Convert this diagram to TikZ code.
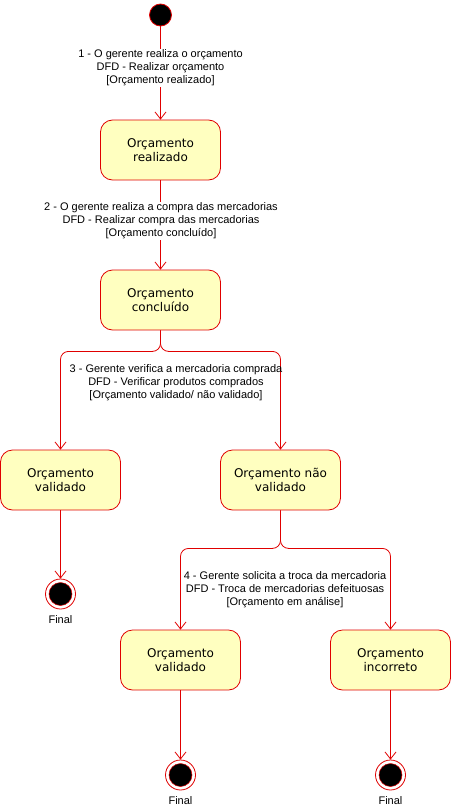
\documentclass[tikz,border=0pt]{standalone}
\usepackage{fontspec}
\setmainfont{Liberation Sans}
\newfontfamily\statefont{DejaVu Sans}
\usetikzlibrary{arrows.meta}

\definecolor{umlred}{HTML}{E00000}
\definecolor{umlfill}{HTML}{FFFFC0}

\tikzset{
  state/.style={draw=umlred, fill=umlfill, rounded corners=12pt, line width=0.8pt,
    minimum width=120pt, minimum height=60pt, align=center,
    font=\statefont\fontsize{12}{14}\selectfont},
  trans/.style={draw=umlred, line width=0.8pt, -{Straight Barb[length=7pt,width=11pt]}},
  lbl/.style={align=center, font=\fontsize{11}{13}\selectfont, inner sep=1pt},
  initial/.style={circle, draw=umlred, fill=black, line width=0.8pt, minimum size=22pt, inner sep=0pt},
  final/.style={circle, draw=umlred, fill=white, line width=0.8pt, minimum size=30pt, inner sep=0pt,
    path picture={\draw[umlred, fill=black, line width=0.5pt] (path picture bounding box.center) circle (11.5pt);}}
}

\begin{document}
\begin{tikzpicture}[x=1pt, y=-1pt]
  \useasboundingbox (0,0) rectangle (451,811);

  \node[initial] (S) at (160.5,15) {};
  \node[state] (R) at (160.5,150) {Orçamento\\realizado};
  \node[state] (C) at (160.5,300) {Orçamento\\concluído};
  \node[state] (V) at (60.5,480) {Orçamento\\validado};
  \node[state] (NV) at (280.5,480) {Orçamento não\\validado};
  \node[state] (V2) at (180.5,660) {Orçamento\\validado};
  \node[state] (I) at (390.5,660) {Orçamento\\incorreto};

  \node[final] (F1) at (60.5,594) {};
  \node[final] (F2) at (180.5,775) {};
  \node[final] (F3) at (390.5,775) {};
  \node[lbl] (F1t) at (60.5,620) {Final};
  \node[lbl] (F2t) at (180.5,801) {Final};
  \node[lbl] (F3t) at (390.5,801) {Final};

  % transicoes
  \draw[trans] (S) -- (R);
  \draw[trans] (R) -- (C);
  \draw[trans, rounded corners=8pt] (C.south) -- ++(0,21) -| (V.north);
  \draw[trans, rounded corners=8pt] (C.south) -- ++(0,21) -| (NV.north);
  \draw[trans] (V) -- (F1);
  \draw[trans, rounded corners=8pt] (NV.south) -- ++(0,38) -| (V2.north);
  \draw[trans, rounded corners=8pt] (NV.south) -- ++(0,38) -| (I.north);
  \draw[trans] (V2) -- (F2);
  \draw[trans] (I) -- (F3);

  \node[lbl, fill=white] (L1) at (160.5,68) {1 - O gerente realiza o orçamento\\DFD - Realizar orçamento\\{[Orçamento realizado]}};
  \node[lbl, fill=white] (L2) at (161,221) {2 - O gerente realiza a compra das mercadorias\\DFD - Realizar compra das mercadorias\\{[Orçamento concluído]}};
  \node[lbl] (L3) at (176,383) {3 - Gerente verifica a mercadoria comprada\\DFD - Verificar produtos comprados\\{[Orçamento validado/ não validado]}};
  \node[lbl] (L4) at (285,590) {4 - Gerente solicita a troca da mercadoria\\DFD - Troca de mercadorias defeituosas\\{[Orçamento em análise]}};
\end{tikzpicture}
\end{document}
